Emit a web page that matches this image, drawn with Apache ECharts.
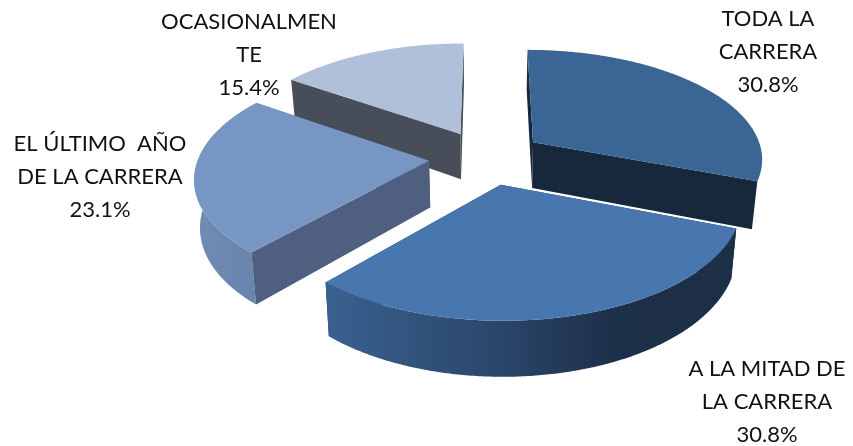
<!DOCTYPE html>
<html>
<head>
<meta charset="utf-8">
<style>html,body{margin:0;padding:0;background:#fff}#c{width:853px;height:446px}</style>
<script src="https://cdn.jsdelivr.net/npm/echarts@6/dist/echarts.min.js"></script>
</head>
<body>
<div id="c"></div>
<script>
var categories = ['TODA LA\nCARRERA', 'A LA MITAD DE\nLA CARRERA', 'EL ÚLTIMO  AÑO\nDE LA CARRERA', 'OCASIONALMEN\nTE'];
var shares = [30.8, 30.8, 23.1, 15.4];
var tickPercent = ['30.8%', '30.8%', '23.1%', '15.4%'];

var topColors = ['#3b6594', '#4877b0', '#7896c3', '#b1c0da'];
var cutColors = ['#18283c', '#1c2e46', '#4e5f7f', '#484e59'];
var rimStops = [
  null,
  [[0, '#3a6190'], [0.45, '#294467'], [0.7, '#1d3049'], [1, '#1d2f47']],
  [[0, '#6f8cb7'], [1, '#6884ab']],
  null
];
var paintOrder = [2, 4, 3, 1];
var labelCentres = [[768, 52], [767, 402], [100, 177], [249, 55]];

var view = { cx: 486.5, cy: 157.5, rx: 230.5, ry: 109, persp: 0.137, drop: 46.5, lean: 0.02, explode: 0.25 };

function project(u, v, z) {
  var d = 1 + view.persp * v;
  return [view.cx + view.rx * u / d * (1 - view.lean * z), view.cy - view.ry * v / d + z * view.drop / d];
}
var total = shares.reduce(function (a, b) { return a + b; }, 0);

function renderItem(params, api) {
  var i = params.dataIndex;
  var val = api.value(0);
  var before = 0;
  for (var k = 0; k < i; k++) before += shares[k];
  var a0 = before / total * 2 * Math.PI, a1 = (before + val) / total * 2 * Math.PI;
  var mid = (a0 + a1) / 2;
  var ou = view.explode * Math.sin(mid), ov = view.explode * Math.cos(mid);
  var topArc = [], botArc = [], n = Math.ceil((a1 - a0) / 0.01);
  for (var s = 0; s <= n; s++) {
    var a = a0 + (a1 - a0) * s / n;
    var u = ou + Math.sin(a), v = ov + Math.cos(a);
    topArc.push(project(u, v, 0));
    botArc.push(project(u, v, 1));
  }
  var apexT = project(ou, ov, 0), apexB = project(ou, ov, 1);
  var base = paintOrder[i] * 10;
  function poly(points, fill, z) {
    return { type: 'polygon', shape: { points: points }, style: { fill: fill, stroke: null }, z2: base + z, silent: true };
  }
  var startWall = [apexT, topArc[0], botArc[0], apexB];
  var endWall = [apexT, topArc[n], botArc[n], apexB];
  var startFront = Math.sin(a0) < -0.001, endFront = Math.sin(a1) > 0.001;
  var children = [
    poly(startWall, cutColors[i], startFront ? 3 : 0),
    poly(endWall, cutColors[i], endFront ? 3 : 0),
    poly([apexT].concat(topArc), topColors[i], 4),
    {
      type: 'text', z2: 100, silent: true,
      style: {
        text: categories[i] + '\n' + tickPercent[i],
        x: labelCentres[i][0], y: labelCentres[i][1],
        align: 'center', verticalAlign: 'middle',
        fontFamily: 'Lato', fontSize: 22, lineHeight: 33, fill: '#111'
      }
    }
  ];
  if (rimStops[i]) {
    children.push(poly(topArc.concat(botArc.slice().reverse()), {
      type: 'linear', x: 0, y: 0, x2: 1, y2: 0,
      colorStops: rimStops[i].map(function (c) { return { offset: c[0], color: c[1] }; })
    }, 2));
  }
  return { type: 'group', children: children };
}

var chart = echarts.init(document.getElementById('c'), null, { renderer: 'canvas' });
chart.setOption({
  backgroundColor: '#fff',
  animation: false,
  series: [{
    type: 'custom',
    coordinateSystem: 'none',
    renderItem: renderItem,
    data: shares.map(function (s) { return [s]; })
  }]
});
</script>
</body>
</html>
